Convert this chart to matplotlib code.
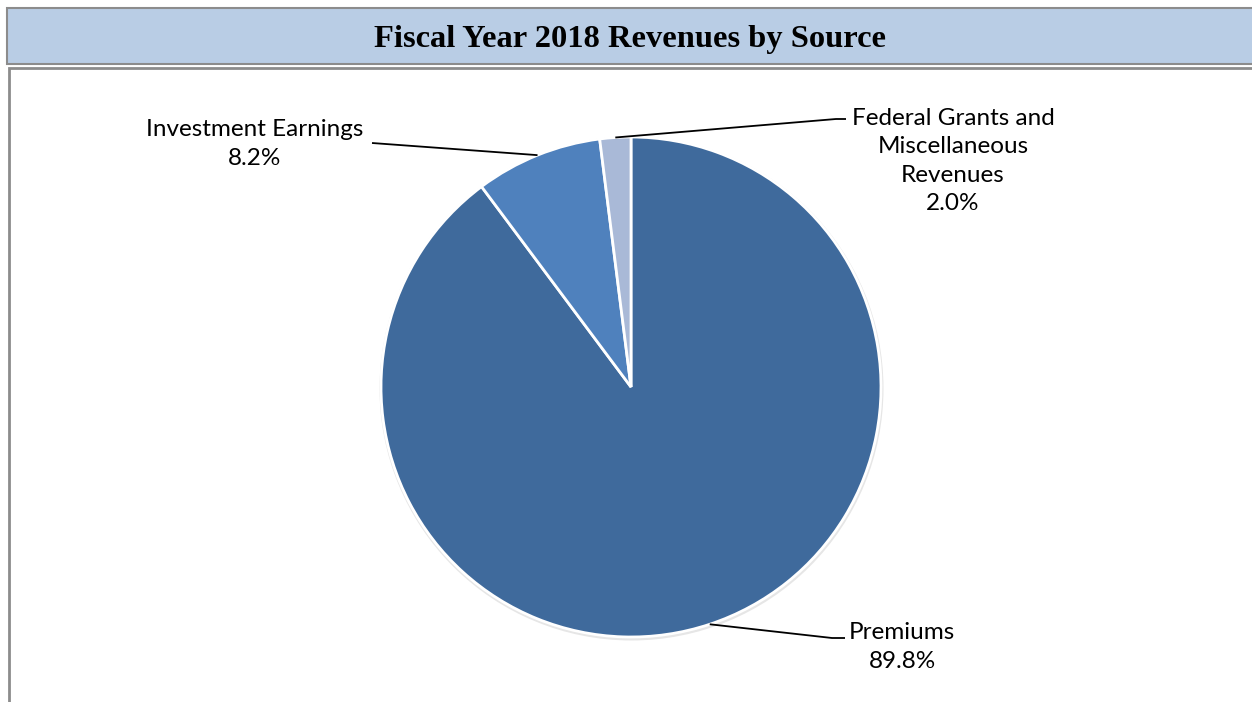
import matplotlib.pyplot as plt
from matplotlib.patches import Rectangle, Circle
import numpy as np

# data
sources = ['Premiums', 'Investment Earnings', 'Federal Grants and\nMiscellaneous\nRevenues']
shares = [89.8, 8.2, 2.0]
colors = ['#3F6A9C', '#4F81BD', '#A9B9D7']

W, H = 1252, 702
fig = plt.figure(figsize=(W / 100, H / 100), dpi=100)
ax = fig.add_axes([0, 0, 1, 1])
ax.set_xlim(0, W)
ax.set_ylim(0, H)
ax.set_aspect('equal')
ax.axis('off')

# title bar and chart frame (pixel layout, y measured from top)
ax.add_patch(Rectangle((7, H - 64), W, 56, facecolor='#B9CDE5',
                       edgecolor='#8C8C8C', lw=1.5, zorder=1))
ax.add_patch(Rectangle((9, -10), W, H - 68 + 10, facecolor='white',
                       edgecolor='#8C8C8C', lw=2, zorder=1))
ax.text(630, H - 40, 'Fiscal Year 2018 Revenues by Source', ha='center', va='center',
        family='Liberation Serif', weight='bold', fontsize=23.4, zorder=3)

cx, cy, r = 631, H - 387, 250

# soft shadow behind the pie
ax.add_patch(Circle((cx + 0.5, cy - 1.5), r + 2, facecolor='#E6E6E6', edgecolor='none', zorder=2))

wedges, _ = ax.pie(shares, colors=colors, startangle=90, counterclock=False,
                   center=(cx, cy), radius=r, frame=True,
                   wedgeprops=dict(edgecolor='white', linewidth=2))
for w in wedges:
    w.set_zorder(3)
ax.set_xlim(0, W)
ax.set_ylim(0, H)
ax.axis('off')

# label text positions and leader line elbows (pixels from top)
label_pos = [(902, 647), (255, 144), (953, 161)]
elbows = [[(832, 638), (845, 638)], [(372, 143)], [(836, 119), (846, 119)]]

for w, name, pct, (lx, ly), elb in zip(wedges, sources, shares, label_pos, elbows):
    ang = np.deg2rad((w.theta1 + w.theta2) / 2)
    px, py = cx + r * np.cos(ang), cy + r * np.sin(ang)
    xs = [px] + [e[0] for e in elb]
    ys = [py] + [H - e[1] for e in elb]
    ax.plot(xs, ys, color='black', lw=1.3, zorder=4, solid_capstyle='butt')
    ax.text(lx, H - ly, f'{name}\n{pct:.1f}%', ha='center', va='center',
            family='Lato', fontsize=17.5, linespacing=1.45, zorder=4)

fig.savefig('out.png', dpi=100)
